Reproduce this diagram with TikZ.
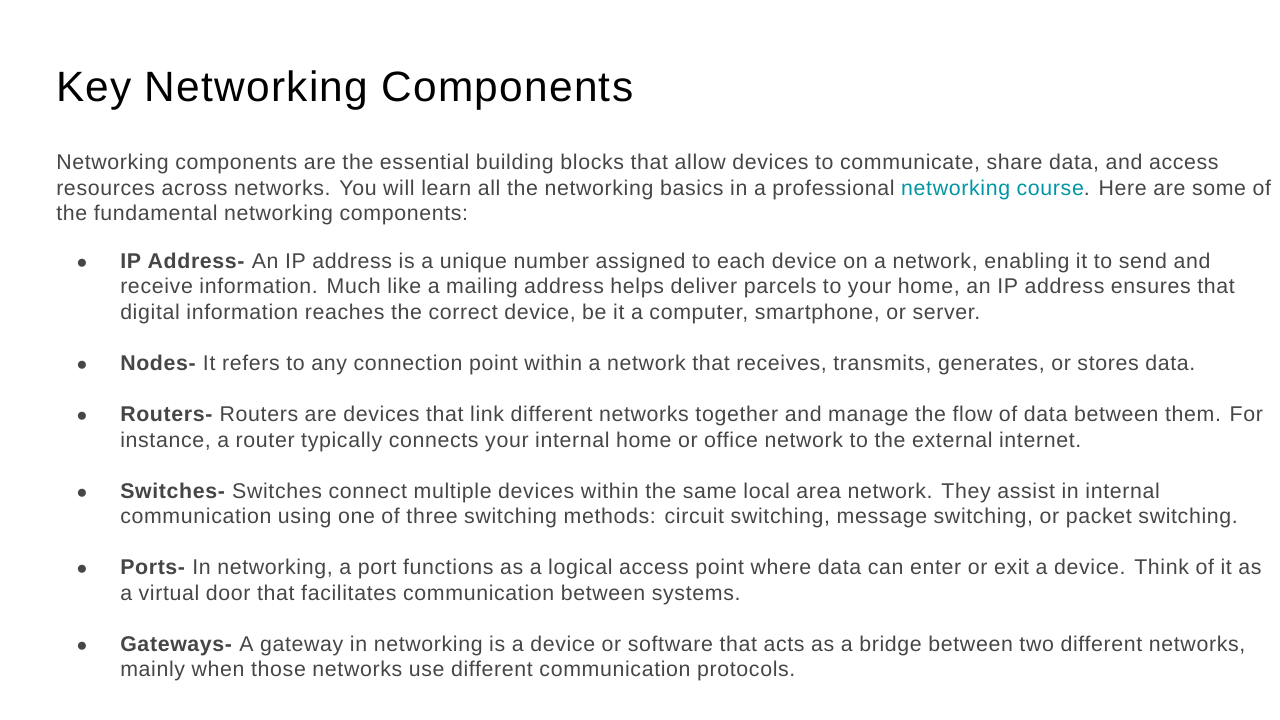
\documentclass[tikz,border=0pt]{standalone}
\usepackage{fontspec}
\setmainfont{Liberation Sans}[LetterSpace=3.0]
\definecolor{bodygray}{RGB}{70,70,70}
\definecolor{linkteal}{RGB}{0,150,165}
\tikzset{
  line/.style={anchor=base west,inner sep=0pt,text=bodygray,font=\fontsize{16pt}{18pt}\selectfont},
  bul/.style={anchor=base,inner sep=0pt,text=bodygray,font=\fontsize{14pt}{14pt}\selectfont},
}
\begin{document}
\begin{tikzpicture}[x=0.75pt,y=-0.75pt]
\useasboundingbox[fill=white] (0,0) rectangle (1280,720);

% Title
\node[anchor=base west,inner sep=0pt,font=\fontsize{31.8pt}{34pt}\selectfont] (title) at (56,102) {Key Networking Components};

% Intro
\node[line] (intro1) at (56,170) {Networking components are the essential building blocks that allow devices to communicate, share data, and access};
\node[line] (intro2) at (56,196) {resources across networks. You will learn all the networking basics in a professional \textcolor{linkteal}{networking course}. Here are some of};
\node[line] (intro3) at (56,221) {the fundamental networking components:};

% Bullets
\foreach \y in {268,370,421,498,574,651}
  \node[bul] at (82,\y) {●};

\node[line] (ip1) at (120,268) {\textbf{IP Address-} An IP address is a unique number assigned to each device on a network, enabling it to send and};
\node[line] (ip2) at (120,293) {receive information. Much like a mailing address helps deliver parcels to your home, an IP address ensures that};
\node[line] (ip3) at (120,319) {digital information reaches the correct device, be it a computer, smartphone, or server.};

\node[line] (nodes1) at (120,370) {\textbf{Nodes-} It refers to any connection point within a network that receives, transmits, generates, or stores data.};

\node[line] (rout1) at (120,421) {\textbf{Routers-} Routers are devices that link different networks together and manage the flow of data between them. For};
\node[line] (rout2) at (120,447) {instance, a router typically connects your internal home or office network to the external internet.};

\node[line] (sw1) at (120,498) {\textbf{Switches-} Switches connect multiple devices within the same local area network. They assist in internal};
\node[line] (sw2) at (120,523) {communication using one of three switching methods: circuit switching, message switching, or packet switching.};

\node[line] (port1) at (120,574) {\textbf{Ports-} In networking, a port functions as a logical access point where data can enter or exit a device. Think of it as};
\node[line] (port2) at (120,600) {a virtual door that facilitates communication between systems.};

\node[line] (gw1) at (120,651) {\textbf{Gateways-} A gateway in networking is a device or software that acts as a bridge between two different networks,};
\node[line] (gw2) at (120,676) {mainly when those networks use different communication protocols.};
\end{tikzpicture}
\end{document}
